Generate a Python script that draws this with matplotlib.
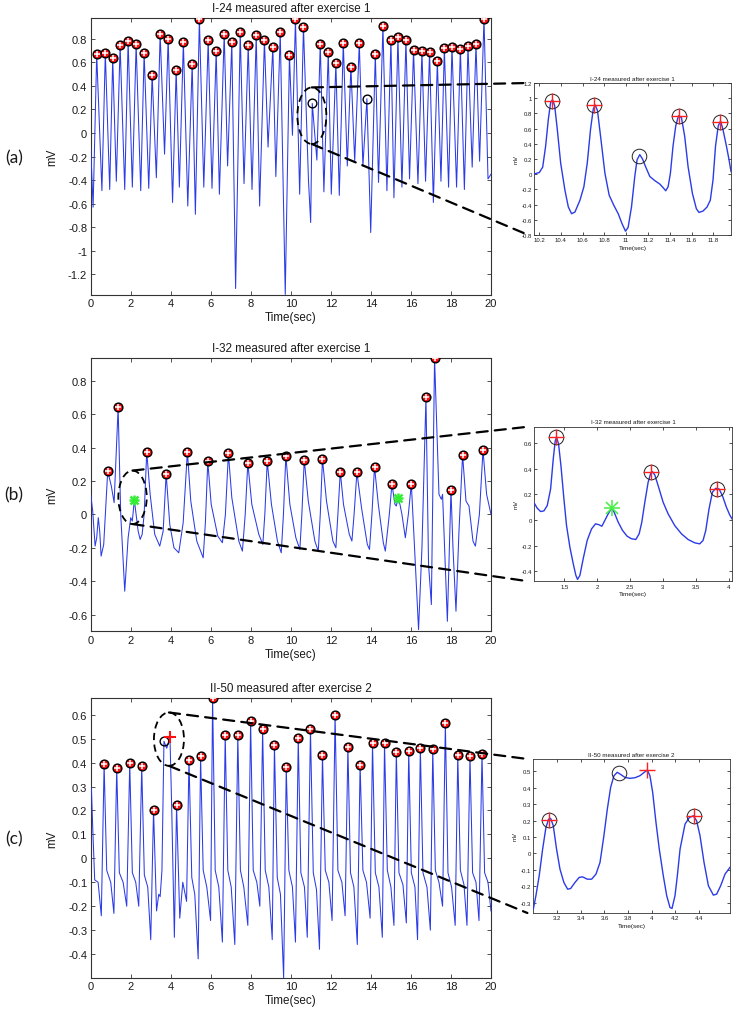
import matplotlib
matplotlib.use("Agg")
import matplotlib.pyplot as plt
from matplotlib.patches import Ellipse, ConnectionPatch
from matplotlib.ticker import FuncFormatter, FixedLocator

plt.rcParams['font.family'] = ['Liberation Sans', 'DejaVu Sans']

# ------------------------------------------------------------------ data
# ---- panel (a): I-24 measured after exercise 1
A_PEAK_T = [0.30, 0.73, 1.10, 1.47, 1.87, 2.27, 2.67, 3.07, 3.47, 3.87, 4.27, 4.63, 5.07, 5.43, 5.87,
            6.27, 6.67, 7.05, 7.47, 7.87, 8.27, 8.68, 9.10, 9.47, 9.93, 10.23, 10.63, 11.47, 11.87, 12.25,
            12.62, 13.00, 13.42, 14.22, 14.60, 15.00, 15.35, 15.75, 16.13, 16.55, 16.93, 17.32, 17.67,
            18.05, 18.47, 18.85, 19.25, 19.65]
A_PEAK_V = [0.667, 0.68, 0.633, 0.744, 0.783, 0.752, 0.68, 0.492, 0.84, 0.80, 0.534, 0.772, 0.588, 0.97, 0.786,
            0.693, 0.842, 0.772, 0.856, 0.744, 0.828, 0.786, 0.729, 0.856, 0.659, 0.964, 0.90, 0.758, 0.69, 0.59,
            0.766, 0.563, 0.76, 0.673, 0.907, 0.789, 0.811, 0.789, 0.70, 0.695, 0.687, 0.608, 0.72,
            0.73, 0.715, 0.738, 0.752, 0.97]
A_CIRC_T = [11.07, 13.80]
A_CIRC_V = [0.25, 0.29]
A_VAL_T = [0.0, 0.12, 0.56, 0.95, 1.28, 1.70, 2.08, 2.50, 2.90, 3.28, 3.69, 4.09, 4.43, 4.85, 5.23,
           5.65, 6.06, 6.43, 6.84, 7.24, 7.66, 8.06, 8.44, 8.86, 9.25, 9.72, 10.08, 10.44, 10.88, 10.99,
           11.30, 11.65, 12.02, 12.42, 12.82, 13.19, 13.60, 13.99, 14.38, 14.80, 15.15, 15.55, 15.93, 16.35,
           16.73, 17.12, 17.50, 17.88, 18.28, 18.67, 19.06, 19.43, 19.85, 20.0]
A_VAL_V = [-0.12, -0.63, -0.49, -0.48, -0.41, -0.48, -0.46, -0.49, -0.47, -0.38, -0.18, -0.59, -0.46, -0.62, -0.69,
           -0.46, -0.47, -0.52, -0.28, -1.32, -0.43, -0.48, -0.62, -0.12, -0.37, -1.37, -0.02, -0.52, -0.40, -0.76,
           -0.23, -0.50, -0.52, -0.53, -0.28, -0.24, -0.28, -0.845, -0.42, -0.49, -0.55, -0.46, -0.39, -0.43,
           -0.41, -0.59, -0.41, -0.46, -0.46, -0.48, -0.29, -0.24, -0.39, -0.35]

# ---- panel (b): I-32 measured after exercise 1
B_PEAK_T = [0.85, 1.37, 2.80, 3.77, 4.83, 5.85, 6.88, 7.85, 8.82, 9.75, 10.67, 11.58, 12.47, 13.30,
            14.18, 15.05, 16.02, 16.75, 17.18, 18.00, 18.58, 19.60]
B_PEAK_V = [0.258, 0.64, 0.375, 0.242, 0.375, 0.317, 0.365, 0.307, 0.317, 0.351, 0.327, 0.331, 0.256, 0.252,
            0.285, 0.182, 0.182, 0.70, 0.936, 0.146, 0.357, 0.385]
B_STAR_T = [2.18, 15.35]
B_STAR_V = [0.086, 0.098]
B_VAL_T = [0.0, 0.10, 0.22, 0.30, 0.38, 0.45, 0.52, 0.65,
           1.03, 1.17,
           1.50, 1.70, 1.87, 2.00, 2.08,
           2.37, 2.47, 2.57, 2.67,
           2.97, 3.20, 3.45, 3.62,
           3.95, 4.16, 4.40, 4.62,
           5.00, 5.30, 5.62, 5.73,
           6.02, 6.35, 6.58, 6.73,
           7.05, 7.40, 7.58, 7.72,
           8.05, 8.40, 8.60, 8.70,
           9.03, 9.33, 9.52, 9.63,
           9.95, 10.25, 10.45, 10.55,
           10.87, 11.20, 11.37, 11.47,
           11.78, 12.10, 12.25, 12.35,
           12.63, 12.92, 13.05, 13.16,
           13.53, 13.82, 13.93, 14.05,
           14.37, 14.62, 14.72, 14.92,
           15.20, 15.27,
           15.45, 15.55, 15.72, 15.87,
           16.18, 16.38, 16.55,
           16.88, 17.02,
           17.40, 17.52, 17.58, 17.82,
           18.10, 18.25, 18.40,
           18.75, 18.90, 19.10, 19.22, 19.42,
           19.78, 20.0]
B_VAL_V = [0.12, 0.02, -0.19, -0.14, -0.02, -0.10, -0.25, -0.18,
           0.17, 0.07,
           0.0, -0.46, -0.14, -0.02, -0.04,
           -0.10, -0.15, -0.12, 0.0,
           0.12, -0.12, -0.19, -0.10,
           -0.06, -0.20, -0.23, -0.05,
           0.08, -0.16, -0.26, -0.05,
           0.06, -0.13, -0.17, 0.0,
           0.10, -0.16, -0.22, 0.0,
           0.06, -0.12, -0.18, 0.0,
           0.06, -0.16, -0.23, 0.0,
           0.06, -0.14, -0.21, 0.0,
           0.08, -0.16, -0.22, 0.0,
           0.08, -0.16, -0.20, 0.0,
           0.06, -0.12, -0.16, 0.0,
           0.04, -0.18, -0.21, 0.0,
           0.06, -0.17, -0.22, 0.0,
           0.06, 0.05,
           0.06, 0.0, -0.14, 0.0,
           -0.20, -0.69, -0.20,
           -0.30, -0.54,
           0.12, 0.09, 0.12, -0.64,
           -0.20, -0.58, -0.10,
           0.08, 0.05, -0.16, -0.19, 0.0,
           0.12, 0.0]

# ---- panel (c): II-50 measured after exercise 2
C_PEAK_T = [0.67, 1.30, 1.95, 2.55, 3.14, 4.29, 4.91, 5.49, 6.09, 6.72, 7.35, 7.99, 8.59, 9.18, 9.77,
            10.37, 10.98, 11.58, 12.21, 12.85, 13.46, 14.08, 14.68, 15.27, 15.89, 16.47, 17.09, 17.72,
            18.34, 18.95, 19.55]
C_PEAK_V = [0.394, 0.377, 0.397, 0.384, 0.203, 0.221, 0.413, 0.426, 0.67, 0.514, 0.514, 0.572, 0.539, 0.475, 0.381,
            0.501, 0.539, 0.431, 0.599, 0.466, 0.391, 0.48, 0.483, 0.445, 0.45, 0.461, 0.457, 0.565,
            0.431, 0.426, 0.436]
C_CIRC_T = [3.66]
C_CIRC_V = [0.489]
C_PLUS_T = [3.96]
C_PLUS_V = [0.508]
C_VAL_T = [0.0, 0.04, 0.10, 0.20, 0.37, 0.53,
           0.80, 1.00, 1.16,
           1.43, 1.62, 1.80,
           2.08, 2.25, 2.40,
           2.68, 2.85, 3.00,
           3.29, 3.40, 3.47, 3.56,
           3.80,
           4.05, 4.18,
           4.45, 4.60, 4.79,
           5.05, 5.20, 5.37,
           5.62, 5.80, 5.99,
           6.22, 6.40, 6.58,
           6.85, 7.02, 7.20,
           7.48, 7.65, 7.85,
           8.12, 8.30, 8.45,
           8.72, 8.90, 9.07,
           9.32, 9.48, 9.64,
           9.90, 10.08, 10.23,
           10.50, 10.68, 10.82,
           11.12, 11.28, 11.43,
           11.72, 11.90, 12.06,
           12.35, 12.55, 12.71,
           12.98, 13.15, 13.32,
           13.60, 13.78, 13.96,
           14.22, 14.40, 14.57,
           14.82, 15.00, 15.15,
           15.40, 15.60, 15.77,
           16.02, 16.20, 16.33,
           16.60, 16.80, 16.97,
           17.22, 17.40, 17.58,
           17.85, 18.03, 18.21,
           18.47, 18.65, 18.80,
           19.08, 19.25, 19.40,
           19.68, 19.85, 20.0]
C_VAL_V = [0.30, 0.28, 0.13, -0.09, -0.10, -0.24,
           -0.05, -0.10, -0.23,
           -0.06, -0.10, -0.20,
           -0.06, -0.10, -0.20,
           -0.07, -0.12, -0.34,
           -0.22, -0.15, -0.16, -0.05,
           0.46,
           0.20, -0.33,
           -0.25, -0.10, -0.18,
           -0.08, -0.15, -0.42,
           -0.05, -0.12, -0.26,
           -0.05, -0.12, -0.35,
           -0.05, -0.12, -0.36,
           -0.05, -0.12, -0.28,
           -0.05, -0.10, -0.20,
           -0.05, -0.12, -0.34,
           -0.08, -0.15, -0.50,
           -0.05, -0.12, -0.35,
           -0.06, -0.12, -0.33,
           -0.06, -0.13, -0.38,
           -0.05, -0.10, -0.26,
           -0.05, -0.10, -0.24,
           -0.06, -0.12, -0.36,
           -0.05, -0.10, -0.25,
           -0.06, -0.12, -0.33,
           -0.05, -0.12, -0.28,
           -0.06, -0.11, -0.27,
           -0.06, -0.12, -0.34,
           -0.06, -0.12, -0.30,
           -0.05, -0.10, -0.20,
           -0.06, -0.12, -0.28,
           -0.05, -0.11, -0.28,
           -0.06, -0.10, -0.26,
           -0.06, -0.10, -0.22]

# ---- inset (a) zoom 10.16 - 11.96 s
IA_T = [10.157, 10.203, 10.234, 10.261, 10.286, 10.307, 10.325, 10.344, 10.368, 10.399, 10.438, 10.469,
        10.499, 10.53, 10.576, 10.612, 10.643, 10.673, 10.698, 10.716, 10.737, 10.765, 10.805, 10.844,
        10.887, 10.927, 10.963, 10.994, 11.018, 11.049, 11.079, 11.10, 11.125, 11.15, 11.18, 11.217,
        11.263, 11.309, 11.345, 11.363, 11.385, 11.406, 11.43, 11.455, 11.48, 11.507, 11.537, 11.568,
        11.608, 11.644, 11.668, 11.705, 11.742, 11.772, 11.797, 11.82, 11.845, 11.866, 11.888, 11.92,
        11.944, 11.962]
IA_V = [0.004, 0.022, 0.093, 0.37, 0.724, 0.946, 0.98, 0.90, 0.59, 0.146, -0.21, -0.43,
        -0.52, -0.498, -0.342, -0.165, 0.146, 0.59, 0.857, 0.91, 0.835, 0.50, 0.013, -0.276,
        -0.41, -0.52, -0.654, -0.75, -0.70, -0.43, -0.03, 0.19, 0.257, 0.20, 0.093, -0.03,
        -0.085, -0.13, -0.187, -0.218, -0.165, 0.013, 0.37, 0.636, 0.769, 0.746, 0.50, 0.10,
        -0.254, -0.454, -0.503, -0.485, -0.432, -0.343, -0.076, 0.37, 0.636, 0.70, 0.59, 0.37,
        0.19, 0.035]
IA_MARK_T = [10.322, 10.707, 11.483, 11.864]
IA_MARK_V = [0.96, 0.91, 0.77, 0.69]
IA_CIRC_T = [11.119]
IA_CIRC_V = [0.244]

# ---- inset (b) zoom 1.05 - 4.05 s
IB_T = [1.045, 1.09, 1.141, 1.191, 1.242, 1.293, 1.333, 1.363, 1.384, 1.414, 1.45, 1.495, 1.535, 1.586,
        1.637, 1.677, 1.702, 1.738, 1.788, 1.849, 1.915, 1.976, 2.031, 2.072, 2.117, 2.168, 2.219, 2.259,
        2.32, 2.386, 2.456, 2.522, 2.588, 2.639, 2.679, 2.725, 2.775, 2.816, 2.841, 2.877, 2.927, 3.003,
        3.079, 3.18, 3.281, 3.383, 3.484, 3.56, 3.61, 3.651, 3.701, 3.752, 3.803, 3.853, 3.904, 3.965,
        4.015, 4.05]
IB_V = [0.131, 0.092, 0.066, 0.071, 0.113, 0.243, 0.477, 0.62, 0.646, 0.594, 0.425, 0.165, -0.044, -0.213,
        -0.343, -0.434, -0.465, -0.434, -0.304, -0.16, -0.07, -0.03, -0.038, -0.049, -0.004, 0.048, 0.092, 0.061,
        -0.017, -0.082, -0.127, -0.147, -0.153, -0.108, -0.017, 0.139, 0.295, 0.368, 0.378, 0.352, 0.269, 0.139,
        0.048, -0.044, -0.108, -0.153, -0.179, -0.187, -0.16, -0.082, 0.087, 0.217, 0.248, 0.243, 0.191, 0.10,
        0.04, 0.009]
IB_MARK_T = [1.373, 2.826, 3.823]
IB_MARK_V = [0.646, 0.378, 0.243]
IB_STAR_T = [2.219]
IB_STAR_V = [0.092]

# ---- inset (c) zoom 3.0 - 4.66 s
IC_T = [2.997, 3.019, 3.047, 3.076, 3.104, 3.127, 3.144, 3.166, 3.194, 3.223, 3.256, 3.288, 3.313, 3.35,
        3.386, 3.415, 3.454, 3.491, 3.528, 3.562, 3.595, 3.624, 3.652, 3.68, 3.708, 3.737, 3.773, 3.816,
        3.858, 3.90, 3.937, 3.963, 3.985, 4.008, 4.036, 4.064, 4.098, 4.127, 4.155, 4.172, 4.197, 4.217,
        4.24, 4.282, 4.319, 4.353, 4.38, 4.409, 4.443, 4.48, 4.522, 4.55, 4.584, 4.621, 4.663]
IC_V = [-0.34, -0.258, -0.136, 0.026, 0.158, 0.209, 0.213, 0.169, 0.026, -0.096, -0.177, -0.218, -0.214, -0.177,
        -0.146, -0.143, -0.157, -0.157, -0.126, -0.055, 0.108, 0.27, 0.402, 0.473, 0.494, 0.481, 0.463, 0.457,
        0.461, 0.473, 0.494, 0.508, 0.473, 0.372, 0.189, 0.026, -0.136, -0.258, -0.33, -0.335, -0.258, -0.136,
        0.026, 0.178, 0.219, 0.229, 0.199, 0.108, -0.055, -0.197, -0.254, -0.248, -0.197, -0.126, -0.085]
IC_MARK_T = [3.132, 4.36]
IC_MARK_V = [0.205, 0.23]
IC_CIRC_T = [3.725]
IC_CIRC_V = [0.49]
IC_PLUS_T = [3.963]
IC_PLUS_V = [0.508]

TITLES = ["I-24 measured after exercise 1", "I-32 measured after exercise 1", "II-50 measured after exercise 2"]
PANEL_LABELS = ["(a)", "(b)", "(c)"]

# ------------------------------------------------------------------ helpers
W, H = 736, 1012
fig = plt.figure(figsize=(W / 100, H / 100), dpi=100)


def box(l, t, r, b):
    return [l / W, 1 - b / H, (r - l) / W, (b - t) / H]


def gfmt(v, _):
    r = round(v, 3)
    if abs(r) < 1e-9:
        r = 0.0
    return f"{r:g}"


def merged(*series):
    pts = []
    for ts, vs in series:
        pts += list(zip(ts, vs))
    pts.sort()
    return [p[0] for p in pts], [p[1] for p in pts]


TRACE = '#2b3be6'
TXT = '#1a1a1a'


def style(ax, fs, tl, xt, yt, lw=0.8, pad=2.5):
    ax.tick_params(direction='in', top=True, right=True, length=tl, width=0.6,
                   labelsize=fs, pad=pad, colors='#333333', labelcolor=TXT)
    for s in ax.spines.values():
        s.set_linewidth(lw)
        s.set_color('#333333')
    ax.xaxis.set_major_locator(FixedLocator(xt))
    ax.yaxis.set_major_locator(FixedLocator(yt))
    ax.xaxis.set_major_formatter(FuncFormatter(gfmt))
    ax.yaxis.set_major_formatter(FuncFormatter(gfmt))


def main_markers(ax, t, v):
    ax.plot(t, v, 'o', ms=6.3, mfc='#ff1010', mec='black', mew=1.0, zorder=5)
    ax.plot(t, v, '+', ms=4.6, mec='white', mew=1.1, zorder=6)


def inset_markers(ax, t, v):
    ax.plot(t, v, 'o', ms=10.5, mfc='none', mec='#222222', mew=0.7, zorder=5)
    ax.plot(t, v, '+', ms=11.5, mec='#ff2020', mew=1.0, zorder=6)


# ------------------------------------------------------------------ main panels
main_boxes = [box(90.7, 19, 491, 296), box(90.7, 359, 491, 632.3), box(90.7, 699, 491, 979)]
ylims = [(-1.375, 0.975), (-0.70, 0.936), (-0.50, 0.67)]
yticks = [[-1.2, -1.0, -0.8, -0.6, -0.4, -0.2, 0, 0.2, 0.4, 0.6, 0.8],
          [-0.6, -0.4, -0.2, 0, 0.2, 0.4, 0.6, 0.8],
          [-0.4, -0.3, -0.2, -0.1, 0, 0.1, 0.2, 0.3, 0.4, 0.5, 0.6]]
xticks_main = list(range(0, 21, 2))

traces = [
    merged((A_PEAK_T, A_PEAK_V), (A_CIRC_T, A_CIRC_V), (A_VAL_T, A_VAL_V)),
    merged((B_PEAK_T, B_PEAK_V), (B_STAR_T, B_STAR_V), (B_VAL_T, B_VAL_V)),
    merged((C_PEAK_T, C_PEAK_V), (C_CIRC_T, C_CIRC_V), (C_PLUS_T, C_PLUS_V), (C_VAL_T, C_VAL_V)),
]
mains = []
for i in range(3):
    ax = fig.add_axes(main_boxes[i])
    tt, vv = traces[i]
    ax.plot(tt, vv, color=TRACE, lw=0.75, zorder=3)
    ax.set_xlim(0, 20)
    ax.set_ylim(*ylims[i])
    style(ax, 8, 3.2, xticks_main, yticks[i])
    ax.set_title(TITLES[i], fontsize=8.4, color=TXT, pad=5)
    ax.set_xlabel('Time(sec)', fontsize=8.4, color=TXT, labelpad=2)
    ax.set_ylabel('mV', fontsize=8.4, color=TXT, labelpad=7)
    mains.append(ax)

axa, axb, axc = mains
main_markers(axa, A_PEAK_T, A_PEAK_V)
axa.plot(A_CIRC_T, A_CIRC_V, 'o', ms=6.3, mfc='none', mec='black', mew=1.0, zorder=5)
main_markers(axb, B_PEAK_T, B_PEAK_V)
axb.plot(B_STAR_T, B_STAR_V, '+', ms=7.5, mec='#33ee33', mew=1.8, zorder=6)
axb.plot(B_STAR_T, B_STAR_V, 'x', ms=5.5, mec='#33ee33', mew=1.8, zorder=6)
main_markers(axc, C_PEAK_T, C_PEAK_V)
axc.plot(C_CIRC_T, C_CIRC_V, 'o', ms=6.3, mfc='none', mec='black', mew=1.0, zorder=5)
axc.plot(C_PLUS_T, C_PLUS_V, '+', ms=8, mec='#ff1010', mew=1.5, zorder=6)

for i, y in enumerate([158, 495, 839]):
    fig.text(14 / W, 1 - y / H, PANEL_LABELS[i], ha='center', va='center', fontsize=12.5,
             family=['Lato', 'DejaVu Sans'], color=TXT)

# ------------------------------------------------------------------ insets
inset_boxes = [box(534.3, 84, 731, 236), box(534.3, 427.7, 732, 582.3), box(533.3, 760, 730, 914)]
inset_xlim = [(10.157, 11.962), (1.045, 4.05), (2.997, 4.663)]
inset_ylim = [(-0.8, 1.2), (-0.48, 0.73), (-0.363, 0.575)]
inset_xt = [[10.2, 10.4, 10.6, 10.8, 11.0, 11.2, 11.4, 11.6, 11.8],
            [1.5, 2, 2.5, 3, 3.5, 4],
            [3.2, 3.4, 3.6, 3.8, 4.0, 4.2, 4.4]]
inset_yt = [[-0.8, -0.6, -0.4, -0.2, 0, 0.2, 0.4, 0.6, 0.8, 1.0, 1.2],
            [-0.4, -0.2, 0, 0.2, 0.4, 0.6],
            [-0.3, -0.2, -0.1, 0, 0.1, 0.2, 0.3, 0.4, 0.5]]
inset_traces = [(IA_T, IA_V), (IB_T, IB_V), (IC_T, IC_V)]
insets = []
for i in range(3):
    ax = fig.add_axes(inset_boxes[i])
    ax.plot(*inset_traces[i], color=TRACE, lw=1.0, zorder=3)
    ax.set_xlim(*inset_xlim[i])
    ax.set_ylim(*inset_ylim[i])
    style(ax, 4.3, 2.0, inset_xt[i], inset_yt[i], lw=0.6, pad=1.8)
    ax.set_title(TITLES[i], fontsize=4.5, color=TXT, pad=2.5)
    ax.set_xlabel('Time(sec)', fontsize=4.6, color=TXT, labelpad=1.5)
    ax.set_ylabel('mV', fontsize=4.3, color=TXT, labelpad=2)
    insets.append(ax)

ia, ib, ic = insets
inset_markers(ia, IA_MARK_T, IA_MARK_V)
ia.plot(IA_CIRC_T, IA_CIRC_V, 'o', ms=10.5, mfc='none', mec='#222222', mew=0.7, zorder=5)
inset_markers(ib, IB_MARK_T, IB_MARK_V)
ib.plot(IB_STAR_T, IB_STAR_V, '+', ms=11, mec='#44ee44', mew=1.1, zorder=6)
ib.plot(IB_STAR_T, IB_STAR_V, 'x', ms=8, mec='#44ee44', mew=1.1, zorder=6)
inset_markers(ic, IC_MARK_T, IC_MARK_V)
ic.plot(IC_CIRC_T, IC_CIRC_V, 'o', ms=10.5, mfc='none', mec='#222222', mew=0.7, zorder=5)
ic.plot(IC_PLUS_T, IC_PLUS_V, '+', ms=11.5, mec='#ff2020', mew=1.0, zorder=6)

# ------------------------------------------------------------------ zoom ellipses and connectors
ellipses = [(11.05, 0.146, 1.45, 0.48), (2.09, 0.102, 1.42, 0.32), (3.91, 0.498, 1.5, 0.223)]
for ax, ins, (cx, cy, ew, eh) in zip(mains, insets, ellipses):
    e = Ellipse((cx, cy), ew, eh, fill=False, ec='black', lw=1.3, ls=(0, (4, 2.5)), zorder=7, clip_on=False)
    ax.add_patch(e)
    for yA, yB in [(cy + eh / 2, 1.0), (cy - eh / 2, 0.0)]:
        con = ConnectionPatch(xyA=(cx, yA), coordsA=ax.transData, xyB=(-0.03, yB), coordsB=ins.transAxes,
                              color='black', lw=1.6, ls=(0, (5, 3.2)), zorder=8)
        fig.add_artist(con)

fig.savefig('out.png', dpi=100)
